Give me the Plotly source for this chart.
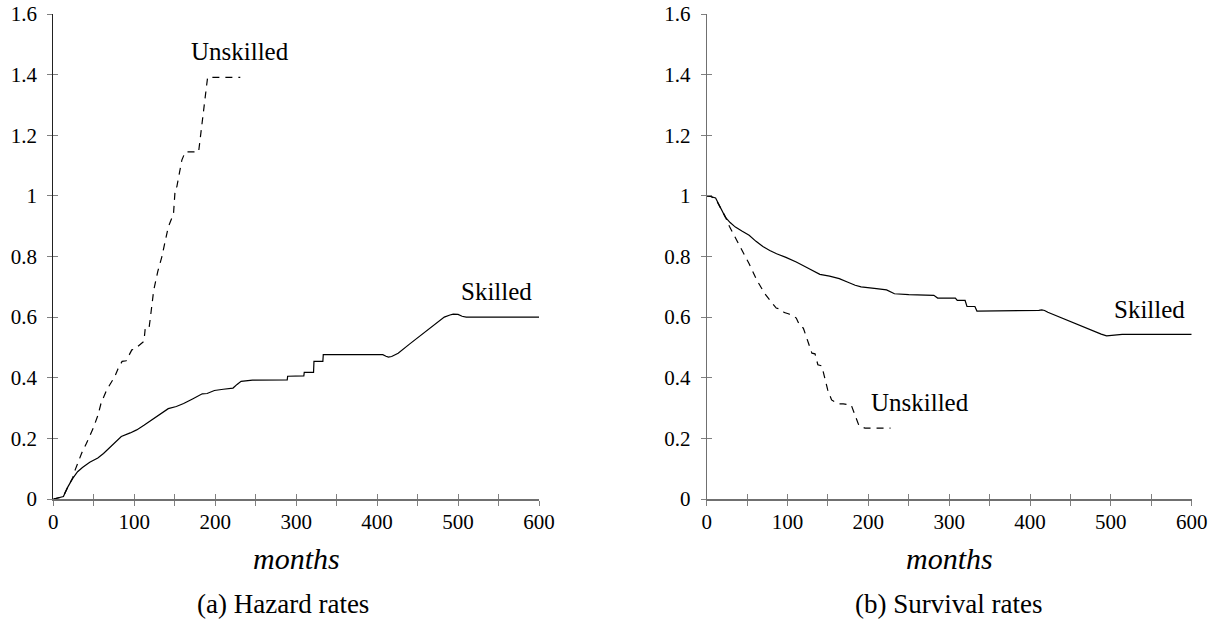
import plotly.graph_objects as go

# ---------------- data ----------------
haz_sk_x = [0, 5, 10, 12.5, 18, 24, 30, 36, 45, 55, 62, 72, 84, 95, 103, 112, 121, 132, 142, 152,
            161, 172, 184, 190, 199, 210, 222, 227, 232, 246, 260, 289, 289.5, 300, 309.5, 310, 321.5, 322,
            333, 333.5, 360, 390, 407, 411, 414, 418, 426, 440, 460, 483, 490, 494, 500, 505, 510, 560, 600]
haz_sk_y = [0, 0.003, 0.006, 0.008, 0.04, 0.068, 0.09, 0.104, 0.121, 0.135, 0.15, 0.175, 0.206, 0.218,
            0.228, 0.243, 0.26, 0.28, 0.298, 0.305, 0.315, 0.33, 0.347, 0.348, 0.358, 0.362, 0.366, 0.378,
            0.388, 0.392, 0.393, 0.393, 0.405, 0.406, 0.406, 0.418, 0.418, 0.454, 0.454, 0.476, 0.476,
            0.476, 0.476, 0.471, 0.468, 0.47, 0.481, 0.511, 0.553, 0.600, 0.607, 0.610, 0.609, 0.603,
            0.600, 0.600, 0.600]

haz_un_x = [0, 5, 10, 12, 18, 24, 27, 35, 41, 43, 49.5, 55, 59, 66, 76, 80, 85, 90, 97, 100, 106.5,
            112, 113.6, 118.3, 120, 124, 129, 134, 142, 148.5, 150.6, 152.6, 158.8, 163, 179.5, 182,
            185.6, 190.6, 231]
haz_un_y = [0, 0.002, 0.005, 0.007, 0.04, 0.07, 0.096, 0.151, 0.184, 0.195, 0.235, 0.275, 0.316, 0.36,
            0.404, 0.43, 0.454, 0.456, 0.492, 0.494, 0.509, 0.52, 0.564, 0.564, 0.6, 0.688, 0.75, 0.798,
            0.897, 0.941, 1.024, 1.03, 1.118, 1.145, 1.145, 1.197, 1.272, 1.391, 1.391]

sur_sk_x = [0, 5, 11, 17, 23, 29, 35.5, 44, 52.5, 61, 69.5, 78, 86.5, 98, 110.8, 125, 140, 152, 164,
            174, 183.7, 191, 198.3, 210, 222.5, 227, 232.3, 250, 281, 285.7, 307.6, 310, 319.7, 322,
            331.8, 334.3, 360, 390, 407, 411, 414.5, 418, 422, 440, 460, 475, 488, 494.7, 500, 514,
            560, 600]
sur_sk_y = [1.0, 0.998, 0.993, 0.96, 0.93, 0.912, 0.897, 0.883, 0.870, 0.85, 0.833, 0.82, 0.809, 0.797,
            0.782, 0.762, 0.741, 0.735, 0.727, 0.716, 0.705, 0.7, 0.697, 0.694, 0.69, 0.684, 0.677,
            0.674, 0.672, 0.663, 0.663, 0.655, 0.655, 0.635, 0.635, 0.620, 0.620, 0.620, 0.620, 0.622,
            0.624, 0.622, 0.616, 0.596, 0.574, 0.558, 0.544, 0.538, 0.540, 0.543, 0.543, 0.543]

sur_un_x = [0, 5, 11, 17, 23.3, 28, 33, 42.8, 52.5, 62.2, 71.9, 81.6, 86, 91.3, 96, 101, 105.9, 110.8,
            115.6, 119.5, 125.4, 130.2, 134, 137.5, 142.4, 149.7, 154.5, 161.8, 169, 178.8, 188.5,
            195.8, 227.4]
sur_un_y = [1.0, 0.998, 0.99, 0.96, 0.93, 0.9, 0.875, 0.826, 0.776, 0.721, 0.677, 0.644, 0.63, 0.626,
            0.615, 0.611, 0.606, 0.597, 0.569, 0.564, 0.514, 0.481, 0.479, 0.443, 0.439, 0.36, 0.327,
            0.314, 0.314, 0.310, 0.241, 0.234, 0.234]

x_tickvals = [0, 100, 200, 300, 400, 500, 600]
x_ticktext = ["0", "100", "200", "300", "400", "500", "600"]
x_minor = [0, 50, 100, 150, 200, 250, 300, 350, 400, 450, 500, 550, 600]
y_tickvals = [0, 0.2, 0.4, 0.6, 0.8, 1.0, 1.2, 1.4, 1.6]
y_ticktext = ["0", "0.2", "0.4", "0.6", "0.8", "1", "1.2", "1.4", "1.6"]

labels = {
    "left_unskilled": (230.5, 1.475),
    "left_skilled": (547.8, 0.683),
    "right_skilled": (548, 0.626),
    "right_unskilled": (263.8, 0.318),
}

# ---------------- figure ----------------
W, H = 1216, 620


def fx(px):
    return px / W


def fy(py):
    return (H - py) / H


FONT = "Liberation Serif, DejaVu Serif, serif"
LINE = dict(color="black", width=1.2)
DASH = dict(color="black", width=1.2, dash="7px,6px")

fig = go.Figure()
fig.add_trace(go.Scatter(x=haz_sk_x, y=haz_sk_y, mode="lines", line=LINE, xaxis="x", yaxis="y"))
fig.add_trace(go.Scatter(x=haz_un_x, y=haz_un_y, mode="lines", line=DASH, xaxis="x", yaxis="y"))
fig.add_trace(go.Scatter(x=sur_sk_x, y=sur_sk_y, mode="lines", line=LINE, xaxis="x2", yaxis="y2"))
fig.add_trace(go.Scatter(x=sur_un_x, y=sur_un_y, mode="lines", line=DASH, xaxis="x2", yaxis="y2"))
# dummy traces for overlay tick axes (inside ticks)
fig.add_trace(go.Scatter(x=[None], y=[None], xaxis="x3", yaxis="y3", showlegend=False))
fig.add_trace(go.Scatter(x=[None], y=[None], xaxis="x4", yaxis="y4", showlegend=False))

ydom = [fy(499), fy(14)]
xdom1 = [fx(53.3), fx(539.0)]
xdom2 = [fx(706.7), fx(1191.7)]

TICKC = "#808080"
tickfont = dict(family=FONT, size=21, color="black")


def xaxis(dom, anchor):
    return dict(domain=dom, anchor=anchor, range=[0, 600], showgrid=False, zeroline=False,
                automargin=False,
                showline=True, linecolor="#707070", linewidth=1.6,
                tickmode="array", tickvals=x_tickvals, ticktext=x_ticktext,
                ticks="outside", ticklen=5, tickcolor=TICKC, tickwidth=1,
                minor=dict(tickmode="array", tickvals=x_minor, ticks="outside", ticklen=5,
                           tickcolor=TICKC, tickwidth=1),
                tickfont=tickfont, ticklabelstandoff=-2, ticklabeloverflow="allow",
                fixedrange=True)


def yaxis(anchor, lc):
    return dict(domain=ydom, anchor=anchor, range=[0, 1.6], showgrid=False, zeroline=False,
                automargin=False,
                showline=True, linecolor=lc, linewidth=1.2,
                tickmode="array", tickvals=y_tickvals, ticktext=y_ticktext,
                ticks="outside", ticklen=5, tickcolor=TICKC, tickwidth=1,
                tickfont=tickfont, ticklabelstandoff=6, ticklabeloverflow="allow",
                fixedrange=True)


def ov_x(over, anchor):
    return dict(overlaying=over, anchor=anchor, range=[0, 600], showgrid=False, zeroline=False,
                automargin=False,
                showline=False, tickmode="array", tickvals=x_minor, ticks="inside", ticklen=5,
                tickcolor=TICKC, tickwidth=1, showticklabels=False, fixedrange=True)


def ov_y(over, anchor):
    return dict(overlaying=over, anchor=anchor, range=[0, 1.6], showgrid=False, zeroline=False,
                automargin=False,
                showline=False, tickmode="array", tickvals=y_tickvals, ticks="inside", ticklen=5,
                tickcolor=TICKC, tickwidth=1, showticklabels=False, fixedrange=True)


ann = []
txtfont = dict(family=FONT, size=25, color="black")
for key, ref, name in [("left_unskilled", ("x", "y"), "Unskilled"),
                       ("left_skilled", ("x", "y"), "Skilled"),
                       ("right_skilled", ("x2", "y2"), "Skilled"),
                       ("right_unskilled", ("x2", "y2"), "Unskilled")]:
    lx, ly = labels[key]
    ann.append(dict(x=lx, y=ly, xref=ref[0], yref=ref[1], text=name,
                    showarrow=False, font=txtfont, xanchor="center", yanchor="middle"))

for cx in [fx(296), fx(949)]:
    ann.append(dict(x=cx, y=fy(558), xref="paper", yref="paper", text="months",
                    showarrow=False,
                    font=dict(family="Liberation Serif", size=30, color="black", style="italic"),
                    xanchor="center", yanchor="middle"))
capfont = dict(family=FONT, size=27, color="black")
ann.append(dict(x=fx(282.5), y=fy(604), xref="paper", yref="paper", text="(a) Hazard rates",
                showarrow=False, font=capfont, xanchor="center", yanchor="middle"))
ann.append(dict(x=fx(948.5), y=fy(604), xref="paper", yref="paper", text="(b) Survival rates",
                showarrow=False, font=capfont, xanchor="center", yanchor="middle"))

fig.update_layout(
    width=W, height=H, margin=dict(l=0, r=0, t=0, b=0, autoexpand=False),
    font=dict(family=FONT, size=21, color="black"),
    paper_bgcolor="white", plot_bgcolor="white", showlegend=False,
    xaxis=xaxis(xdom1, "y"), yaxis=yaxis("x", "#222222"),
    xaxis2=xaxis(xdom2, "y2"), yaxis2=yaxis("x2", "#707070"),
    xaxis3=dict(ov_x("x", "y3"), domain=xdom1), yaxis3=dict(ov_y("y", "x3"), domain=ydom),
    xaxis4=dict(ov_x("x2", "y4"), domain=xdom2), yaxis4=dict(ov_y("y2", "x4"), domain=ydom),
    annotations=ann,
)

fig.write_html("out.html", config={"displayModeBar": False},
               post_script="document.body.style.margin='0';document.body.style.overflow='hidden';")
